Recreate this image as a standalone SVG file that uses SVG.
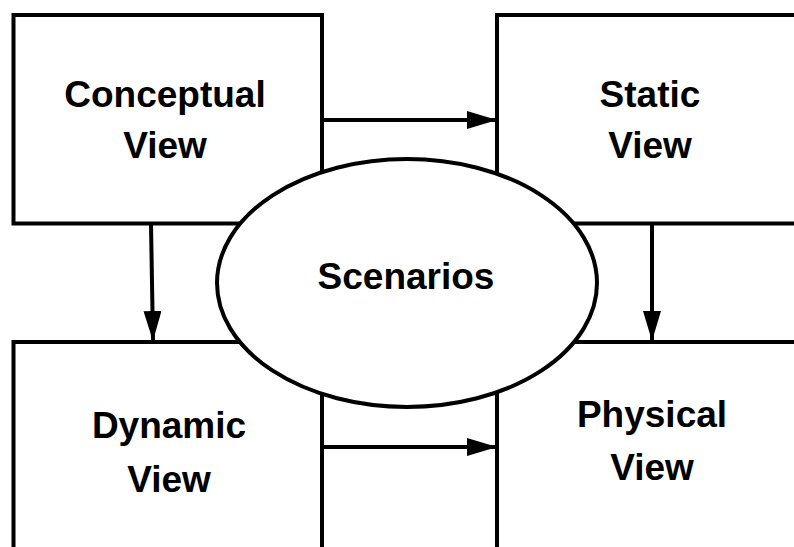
<svg xmlns="http://www.w3.org/2000/svg" width="794" height="547" viewBox="0 0 794 547">
<defs>
<style>
.box{fill:#fff;stroke:#000;stroke-width:4}
.lbl{font-family:"Liberation Sans",Arial,sans-serif;font-weight:bold;font-size:37px;fill:#000;text-anchor:middle}
.conn{stroke:#000;stroke-width:4;fill:none;marker-end:url(#ah)}
</style>
<marker id="ah" markerUnits="userSpaceOnUse" viewBox="0 0 30 18" refX="30" refY="9" markerWidth="30" markerHeight="18" orient="auto">
<path d="M0,0 L30,9 L0,18 Z" fill="#000"/>
</marker>
</defs>
<rect width="794" height="547" fill="#fff"/>
<g id="connectors">
<line class="conn" x1="322" y1="120" x2="497" y2="120"/>
<line class="conn" x1="322" y1="447" x2="497" y2="447"/>
<line class="conn" x1="151" y1="224" x2="153" y2="341"/>
<line class="conn" x1="652" y1="224" x2="652" y2="341"/>
</g>
<g id="conceptual">
<rect class="box" x="13.5" y="15" width="308.5" height="208.5"/>
<text class="lbl" x="165" y="107">Conceptual</text>
<text class="lbl" x="165" y="158">View</text>
</g>
<g id="static">
<rect class="box" x="497" y="15" width="310" height="208.5"/>
<text class="lbl" x="650" y="107">Static</text>
<text class="lbl" x="650" y="158">View</text>
</g>
<g id="dynamic">
<rect class="box" x="13.5" y="342" width="308.5" height="220"/>
<text class="lbl" x="169" y="438">Dynamic</text>
<text class="lbl" x="169" y="492">View</text>
</g>
<g id="physical">
<rect class="box" x="497" y="342" width="310" height="220"/>
<text class="lbl" x="652" y="427">Physical</text>
<text class="lbl" x="652" y="480">View</text>
</g>
<g id="scenarios">
<ellipse class="box" cx="407" cy="283" rx="190" ry="124"/>
<text class="lbl" x="406" y="289">Scenarios</text>
</g>
</svg>
